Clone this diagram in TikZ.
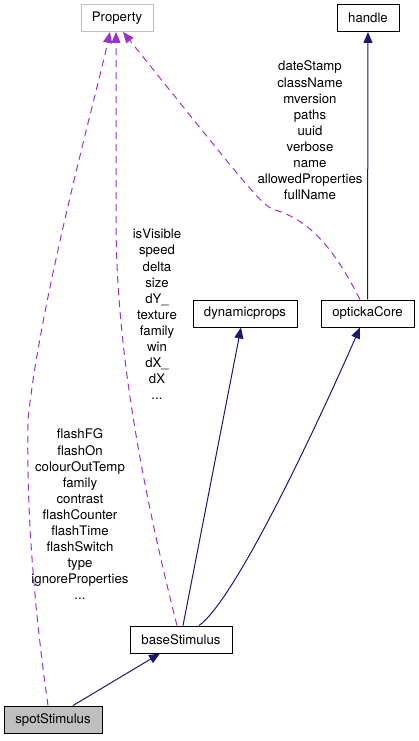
\documentclass[tikz,border=0pt]{standalone}
\usepackage{fontspec}
\setmainfont{TeX Gyre Heros}
\usetikzlibrary{arrows.meta,calc}
\definecolor{inhcol}{RGB}{25,25,112}
\definecolor{propcol}{RGB}{154,50,205}
\definecolor{greybd}{RGB}{191,191,191}
\tikzset{
  cls/.style={draw=black,line width=0.9pt,minimum height=27pt,inner sep=0pt,font=\fontsize{13.2}{16}\selectfont},
  inh/.style={draw=inhcol,line width=1pt,-{Triangle[length=11pt,width=9pt]}},
  usage/.style={draw=propcol,line width=1pt,dash pattern=on 7pt off 5pt,-{Triangle[length=11pt,width=9pt]}},
  lbl/.style={align=center,inner sep=0pt,font=\fontsize{13.2}{16.1}\selectfont}
}
\begin{document}
\begin{tikzpicture}[x=1pt,y=-1pt]
\useasboundingbox (0,0) rectangle (419,741);
\node[cls,draw=greybd,minimum width=72pt] (prop) at (117,18) {Property};
\node[cls,minimum width=62pt] (handle) at (368,18) {handle};
\node[cls,minimum width=104pt] (dyn) at (245,313.5) {dynamicprops};
\node[cls,minimum width=93pt] (opt) at (367.5,313.5) {optickaCore};
\node[cls,minimum width=102pt] (base) at (181,639.5) {baseStimulus};
\node[cls,fill=greybd,minimum width=98pt] (spot) at (53,719.5) {spotStimulus};

\draw[inh] ([xshift=20pt]spot.north) -- ([xshift=-21pt]base.south);
\draw[inh] ([xshift=2pt]base.north) -- ([xshift=-4pt]dyn.south);
\draw[inh] ([xshift=18pt]base.north) .. controls (235,600) and (315,430) .. ([xshift=-7.5pt]opt.south);
\draw[inh] (opt.north) -- (handle.south);

\draw[usage] ([xshift=-5pt]spot.north) .. controls (36,620) and (26,520) .. (28,420) .. controls (40,300) and (95,100) .. ([xshift=-7pt]prop.south);
\draw[usage] ([xshift=-4pt]base.north) .. controls (135,460) and (116,330) .. (116,220) -- ([xshift=-1pt]prop.south);
\draw[usage] ([xshift=-7.5pt]opt.north) .. controls (335,250) and (310,220) .. (275,210) .. controls (262,206) and (250,190) .. ([xshift=6pt]prop.south);

\node[lbl] (l1) at (310,130.5) {dateStamp\\className\\mversion\\paths\\uuid\\verbose\\name\\allowedProperties\\fullName};
\node[lbl] (l2) at (157,314.5) {isVisible\\speed\\delta\\size\\dY\_\\texture\\family\\win\\dX\_\\dX\\...};
\node[lbl] (l3) at (80,514.5) {flashFG\\flashOn\\colourOutTemp\\family\\contrast\\flashCounter\\flashTime\\flashSwitch\\type\\ignoreProperties\\...};
\end{tikzpicture}
\end{document}
